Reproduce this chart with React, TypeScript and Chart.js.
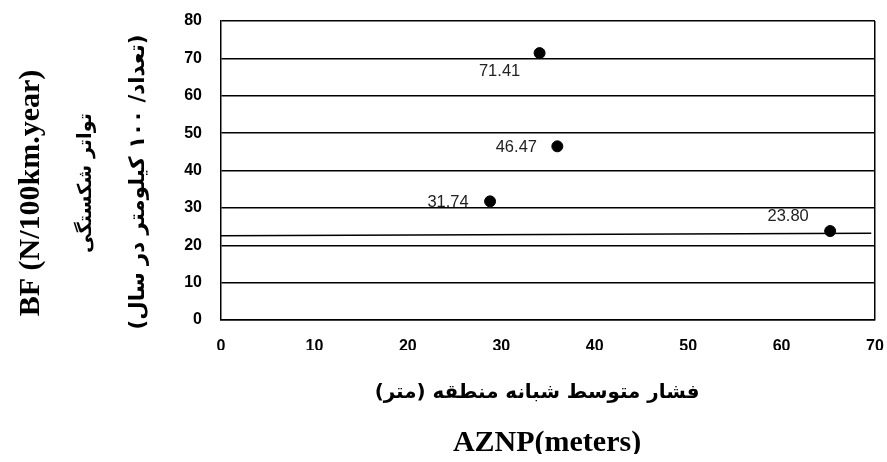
import { useEffect, useRef } from 'react';
import { Chart, registerables } from 'chart.js';

Chart.register(...registerables);

// ---- data ----
const azValues = [34.1, 36.0, 28.8, 65.2];
const bfValues = [71.41, 46.47, 31.74, 23.8];
const pointLabels = ['71.41', '46.47', '31.74', '23.80'];
const trendAz = [0, 69.6];
const trendBf = [22.55, 23.2];
const xTickValues = [0, 10, 20, 30, 40, 50, 60, 70];
const yTickValues = [0, 10, 20, 30, 40, 50, 60, 70, 80];
const yTitleEn = 'BF (N/100km.year)';
const yTitleFa1 = 'تواتر شکستگی';
const yTitleFa2 = '(تعداد/ ۱۰۰ کیلومتر در سال)';
const xTitleFa = 'فشار متوسط شبانه منطقه (متر)';
const xTitleEn = 'AZNP(meters)';

// label offsets (px) relative to each point
const labelOffsets: [number, number][] = [
  [-40, 18],
  [-41, 1],
  [-42, 1],
  [-42, -15],
];

function fitText(ctx: CanvasRenderingContext2D, text: string, family: string, weight: string, target: number) {
  ctx.font = `${weight} 20px ${family}`;
  const w = ctx.measureText(text).width;
  const size = (20 * target) / w;
  ctx.font = `${weight} ${size}px ${family}`;
}

const annotatePlugin = {
  id: 'annotate',
  afterDraw(chart: any) {
    const { ctx } = chart;
    const xs = chart.scales.x;
    const ys = chart.scales.y;
    ctx.save();
    // data labels
    ctx.fillStyle = '#222';
    ctx.font = '16.5px "Liberation Sans", Arial, sans-serif';
    ctx.textAlign = 'center';
    ctx.textBaseline = 'middle';
    pointLabels.forEach((t, i) => {
      const px = xs.getPixelForValue(azValues[i]) + labelOffsets[i][0];
      const py = ys.getPixelForValue(bfValues[i]) + labelOffsets[i][1];
      ctx.fillText(t, px, py);
    });

    ctx.fillStyle = '#000';
    // Y titles (rotated)
    const drawRot = (text: string, cx: number, cy: number, dir: CanvasDirection) => {
      ctx.save();
      ctx.translate(cx, cy);
      ctx.rotate(-Math.PI / 2);
      ctx.direction = dir;
      ctx.textAlign = 'center';
      ctx.textBaseline = 'middle';
      ctx.fillText(text, 0, 0);
      ctx.restore();
    };
    ctx.font = 'bold 30px "Liberation Serif", "Times New Roman", serif';
    drawRot(yTitleEn, 23, 185, 'ltr');
    fitText(ctx, yTitleFa1, '"DejaVu Sans", sans-serif', 'bold', 140);
    drawRot(yTitleFa1, 78, 175, 'rtl');
    fitText(ctx, yTitleFa2, '"DejaVu Sans", sans-serif', 'bold', 295);
    drawRot(yTitleFa2, 130, 174, 'rtl');

    // X titles
    ctx.textAlign = 'center';
    ctx.textBaseline = 'middle';
    ctx.save();
    ctx.direction = 'rtl';
    fitText(ctx, xTitleFa, '"DejaVu Sans", sans-serif', 'bold', 325);
    ctx.fillText(xTitleFa, 529, 385);
    ctx.restore();
    ctx.direction = 'ltr';
    ctx.textAlign = 'center';
    ctx.textBaseline = 'middle';
    ctx.font = 'bold 30px "Liberation Serif", "Times New Roman", serif';
    ctx.fillText(xTitleEn, 539, 435);
    ctx.restore();
  },
};

export default function App() {
  const ref = useRef<HTMLCanvasElement | null>(null);
  useEffect(() => {
    if (!ref.current) return;
    const tickFont = { family: '"Liberation Sans", Arial, sans-serif', size: 16, weight: 'bold' as const };
    const chart = new Chart(ref.current, {
      type: 'scatter',
      data: {
        datasets: [
          {
            label: 'BF',
            data: azValues.map((v, i) => ({ x: v, y: bfValues[i] })),
            backgroundColor: '#000',
            borderColor: '#000',
            pointRadius: 5.5,
            pointHoverRadius: 5.5,
            showLine: false,
          },
          {
            label: 'trend',
            data: trendAz.map((v, i) => ({ x: v, y: trendBf[i] })),
            borderColor: '#000',
            borderWidth: 1.5,
            pointRadius: 0,
            showLine: true,
          },
        ],
      },
      options: {
        animation: false,
        responsive: true,
        maintainAspectRatio: false,
        layout: { padding: { left: 150, top: 13, right: 12, bottom: 104 } },
        plugins: { legend: { display: false }, tooltip: { enabled: false } },
        scales: {
          x: {
            type: 'linear',
            min: 0,
            max: 70,
            afterBuildTicks: (s: any) => {
              s.ticks = xTickValues.map((v) => ({ value: v }));
            },
            afterFit: (s: any) => {
              s.height = 30;
              s.paddingLeft = 0;
              s.paddingRight = 0;
            },
            ticks: { color: '#000', font: tickFont, padding: 17, maxRotation: 0 },
            grid: {
              drawTicks: false,
              lineWidth: 1.5,
              color: (c: any) => (c.tick && c.tick.value === 70 ? '#000' : 'rgba(0,0,0,0)'),
            },
            border: { display: true, color: '#000', width: 1.5 },
          },
          y: {
            type: 'linear',
            min: 0,
            max: 80,
            afterBuildTicks: (s: any) => {
              s.ticks = yTickValues.map((v) => ({ value: v }));
            },
            afterFit: (s: any) => {
              s.width = 63;
              s.paddingTop = 0;
              s.paddingBottom = 0;
            },
            ticks: { color: '#000', font: tickFont, padding: 19 },
            grid: { drawTicks: false, lineWidth: 1.5, color: '#000' },
            border: { display: true, color: '#000', width: 1.5 },
          },
        },
      },
      plugins: [annotatePlugin],
    });
    return () => chart.destroy();
  }, []);
  return (
    <div style={{ position: 'absolute', left: 8, top: 8, width: 879, height: 446 }}>
      <canvas ref={ref} />
    </div>
  );
}
